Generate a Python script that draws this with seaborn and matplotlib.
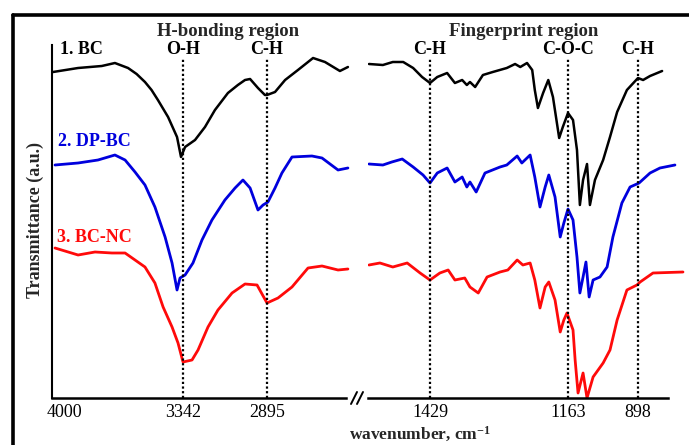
import numpy as np
import pandas as pd
import matplotlib
matplotlib.use("Agg")
import matplotlib.pyplot as plt
import matplotlib.transforms as mtransforms
from matplotlib.lines import Line2D
import seaborn as sns

# ---------------- data (wavenumber cm-1, transmittance a.u.) ----------------
bc_hb_wn = [3995, 3869, 3750, 3684, 3618, 3575, 3533, 3500, 3468, 3417, 3372, 3352, 3331, 3278,
            3225, 3172, 3103, 3050, 3012, 2985, 2943, 2906, 2895, 2852, 2798, 2729, 2648, 2584,
            2504, 2461]
bc_hb_t = [326, 330, 332, 335, 330, 324, 316, 308, 298, 281, 261, 241, 251, 258,
           271, 288, 305, 313, 318, 319, 310, 303, 303, 306, 318, 328, 340, 336,
           327, 331]

dp_hb_wn = [3985, 3869, 3769, 3684, 3633, 3583, 3533, 3483, 3432, 3397, 3372, 3357, 3331, 3289,
            3241, 3188, 3119, 3065, 3023, 2985, 2943, 2916, 2890, 2852, 2815, 2761, 2654, 2600,
            2514, 2461]
dp_hb_t = [233, 235, 238, 243, 238, 226, 213, 191, 161, 135, 108, 120, 123, 135,
           158, 178, 198, 210, 218, 210, 188, 193, 196, 210, 225, 241, 242, 240,
           228, 230]

nc_hb_wn = [3985, 3869, 3784, 3699, 3633, 3583, 3533, 3483, 3442, 3397, 3367, 3342, 3294, 3262,
            3209, 3156, 3081, 3012, 2948, 2895, 2836, 2761, 2675, 2600, 2514, 2461]
nc_hb_t = [150, 143, 146, 145, 145, 138, 131, 115, 91, 71, 55, 36, 38, 48,
           71, 88, 105, 114, 113, 95, 100, 111, 130, 132, 128, 129]

bc_fp_wn = [1552, 1524, 1504, 1483, 1463, 1445, 1429, 1415, 1396, 1381, 1367, 1358, 1352, 1342,
            1327, 1308, 1281, 1265, 1255, 1242, 1232, 1227, 1221, 1211, 1201, 1192, 1180, 1173,
            1163, 1144, 1129, 1118, 1106, 1091, 1080, 1061, 1030, 1004, 977, 940, 898, 879,
            853, 808]
bc_fp_t = [334, 333, 336, 336, 330, 321, 315, 321, 325, 315, 318, 313, 316, 311,
           323, 326, 330, 334, 331, 335, 328, 308, 290, 305, 318, 301, 260, 271,
           285, 278, 248, 193, 218, 234, 193, 218, 238, 261, 286, 308, 320, 318,
           322, 327]

dp_fp_wn = [1552, 1524, 1506, 1485, 1463, 1443, 1429, 1415, 1396, 1381, 1367, 1358, 1352, 1340,
            1323, 1294, 1281, 1261, 1252, 1236, 1227, 1217, 1207, 1200, 1188, 1178, 1171, 1163,
            1144, 1129, 1118, 1106, 1095, 1083, 1068, 1042, 1015, 993, 959, 928, 894, 853,
            816, 760]
dp_fp_t = [234, 233, 236, 239, 231, 223, 215, 225, 230, 216, 221, 211, 216, 206,
           225, 231, 233, 242, 235, 243, 221, 191, 211, 223, 201, 161, 175, 189,
           178, 141, 105, 121, 136, 101, 118, 121, 131, 161, 195, 211, 215, 225,
           230, 233]

nc_fp_wn = [1552, 1530, 1504, 1475, 1449, 1429, 1410, 1394, 1381, 1362, 1352, 1336, 1319, 1294,
            1279, 1261, 1250, 1236, 1227, 1217, 1207, 1200, 1188, 1178, 1171, 1165, 1144, 1136,
            1125, 1106, 1091, 1068, 1030, 1004, 977, 940, 902, 890, 842, 730]
nc_fp_t = [133, 135, 131, 135, 125, 118, 125, 128, 118, 120, 111, 105, 121, 126,
           128, 138, 133, 135, 118, 90, 111, 116, 98, 66, 78, 85, 68, 38,
           5, 25, 0, 21, 35, 48, 78, 108, 113, 116, 125, 126]

hb_marks = [3342, 2895]
hb_mark_labels = ["O-H", "C-H"]
fp_marks = [1429, 1163, 898]
fp_mark_labels = ["C-H", "C-O-C", "C-H"]
hb_ticks = [4000, 3342, 2895]
fp_ticks = [1429, 1163, 898]
series_names = ["1. BC", "2. DP-BC", "3. BC-NC"]
series_colors = ["#000000", "#0000dd", "#ff0a0a"]
series_widths = [1.8, 2.0, 2.0]

# ---------------- styling ----------------
sns.set_theme(style="white")
plt.rcParams["font.family"] = ["Liberation Serif", "DejaVu Serif"]
plt.rcParams["mathtext.default"] = "regular"

W, H = 689, 445
fig = plt.figure(figsize=(W / 100, H / 100), dpi=100)


def fx(px):
    return px / W


def fy(py):
    return 1 - py / H


# piecewise wavenumber -> position scales (the original axis is not linear)
hb_w = [2400, 2895, 3342, 4000, 4100]
hb_p = [359.3, 267, 183, 52, 32.1]
fp_w = [600, 898, 1163, 1429, 1700]
fp_p = [717.8, 638, 568, 430, 295.6]


def make_scale(ws, ps):
    ws = np.asarray(ws, float)
    neg = -np.asarray(ps, float)   # increasing with wavenumber

    def fwd(w):
        return np.interp(w, ws, neg)

    def inv(q):
        return np.interp(q, neg, ws)

    return fwd, inv


def pos_to_w(ws, ps, p):
    ps = np.asarray(ps, float)
    order = np.argsort(ps)
    return float(np.interp(p, ps[order], np.asarray(ws, float)[order]))


y_top = 45
y_axis = 398
ax1 = fig.add_axes([fx(52), fy(y_axis), fx(350 - 52), (y_axis - y_top) / H])
ax2 = fig.add_axes([fx(368), fy(y_axis), fx(686 - 368), (y_axis - y_top) / H])

f1, i1 = make_scale(hb_w, hb_p)
f2, i2 = make_scale(fp_w, fp_p)
ax1.set_xscale("function", functions=(f1, i1))
ax2.set_xscale("function", functions=(f2, i2))
ax1.set_xlim(4000, pos_to_w(hb_w, hb_p, 350))
ax2.set_xlim(pos_to_w(fp_w, fp_p, 368), pos_to_w(fp_w, fp_p, 686))
for ax in (ax1, ax2):
    ax.set_ylim(0, y_axis - y_top)
    ax.set_facecolor("none")
    for s in ("top", "right"):
        ax.spines[s].set_visible(False)
    ax.spines["bottom"].set_linewidth(1.8)
    ax.spines["bottom"].set_color("black")
    ax.tick_params(axis="x", length=0, pad=4, labelsize=13, colors="black")

ax1.spines["left"].set_linewidth(1.5)
ax1.spines["left"].set_color("black")
ax2.spines["left"].set_visible(False)
ax1.spines["bottom"].set_bounds(4000, pos_to_w(hb_w, hb_p, 346))
ax2.spines["bottom"].set_bounds(pos_to_w(fp_w, fp_p, 368), pos_to_w(fp_w, fp_p, 668))

hb_data = [(bc_hb_wn, bc_hb_t), (dp_hb_wn, dp_hb_t), (nc_hb_wn, nc_hb_t)]
fp_data = [(bc_fp_wn, bc_fp_t), (dp_fp_wn, dp_fp_t), (nc_fp_wn, nc_fp_t)]
for ax, data in ((ax1, hb_data), (ax2, fp_data)):
    for (wn, t), name, col, lw in zip(data, series_names, series_colors, series_widths):
        df = pd.DataFrame({"wavenumber": wn, "T": t})
        sns.lineplot(data=df, x="wavenumber", y="T", ax=ax, color=col, lw=lw,
                     estimator=None, sort=True, legend=False)
    ax.set_xlabel("")
    ax.set_ylabel("")
    ax.set_yticks([])

ax1.set_xticks(hb_ticks)
ax1.set_xticklabels([str(t) for t in hb_ticks])
ax2.set_xticks(fp_ticks)
ax2.set_xticklabels([str(t) for t in fp_ticks])
# first label sits a little right of the axis corner in the original
lab0 = ax1.get_xticklabels()[0]
lab0.set_transform(lab0.get_transform() + mtransforms.ScaledTranslation(12 / 100, 0, fig.dpi_scale_trans))

# dotted guide lines and their labels
dot = (0, (1, 1.1))
for ax, marks, labels in ((ax1, hb_marks, hb_mark_labels), (ax2, fp_marks, fp_mark_labels)):
    for m, lab in zip(marks, labels):
        ax.plot([m, m], [0, 340], color="black", lw=1.6, linestyle=dot)
        ax.text(m, 348, lab, ha="center", va="center", fontsize=13, fontweight="bold",
                color="black", clip_on=False)

ax1.text(3103, 367, "H-bonding region", ha="center", va="center", fontsize=13.5,
         fontweight="bold", clip_on=False)
ax2.text(1248, 367, "Fingerprint region", ha="center", va="center", fontsize=13.5,
         fontweight="bold", clip_on=False)

label_pos = [(3962, 348), (3972, 256), (3977, 161)]
for (x, y), name, col in zip(label_pos, series_names, series_colors):
    ax1.text(x, y, name, ha="left", va="center", fontsize=13, fontweight="bold", color=col)

fig.text(fx(35), fy(220), "Transmittance (a.u.)", rotation=90, ha="center", va="center",
         fontsize=13, fontweight="bold")
fig.text(fx(420), fy(440), "wavenumber, cm$^{-1}$", ha="center", va="baseline",
         fontsize=12.5, fontweight="bold")

# axis break marks
for x0 in (351, 357):
    fig.add_artist(Line2D([fx(x0), fx(x0 + 6)], [fy(404), fy(392)], color="black", lw=1.4))

# outer frame (left and top edges only, as in the original crop)
fig.add_artist(Line2D([fx(13), fx(13)], [0, fy(15)], color="black", lw=2.6))
fig.add_artist(Line2D([fx(13), 1], [fy(15), fy(15)], color="black", lw=2.6))

fig.savefig("out.png", dpi=100)
